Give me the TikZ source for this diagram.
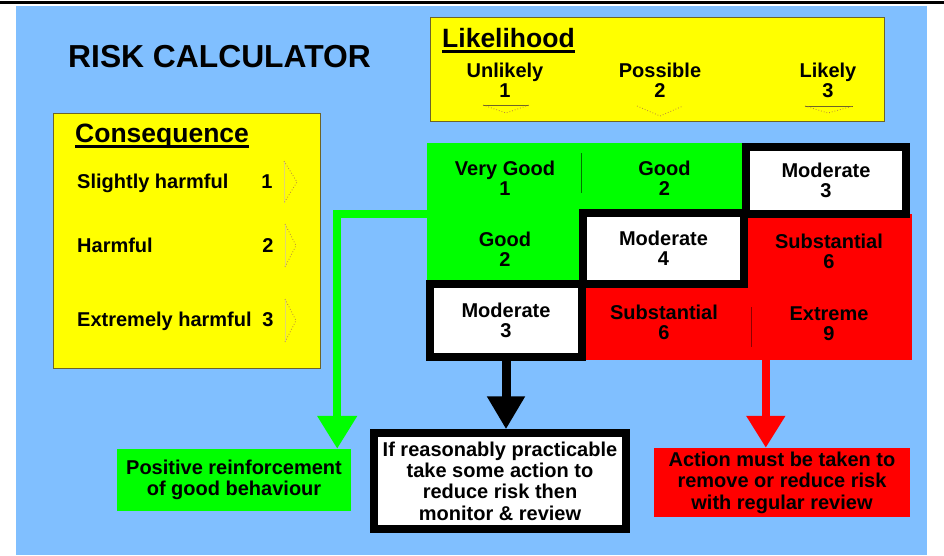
\documentclass[tikz,border=0pt]{standalone}
\usepackage{fontspec}
\setmainfont{Liberation Sans}
\usetikzlibrary{arrows.meta,calc}
\definecolor{bgblue}{RGB}{128,191,255}
\definecolor{yel}{RGB}{255,255,0}
\definecolor{grn}{RGB}{0,255,0}
\definecolor{rd}{RGB}{255,0,0}
\definecolor{boxline}{RGB}{110,100,40}
\definecolor{dotc}{RGB}{185,135,60}
\definecolor{faintc}{RGB}{225,215,110}
\newcommand\ulbox[1]{\setbox0\hbox{#1}\rlap{\rule[-5.5pt]{\wd0}{2.6pt}}\box0}
\begin{document}
\begin{tikzpicture}[x=1pt,y=-1pt,
  txt/.style={font=\fontsize{20}{20}\selectfont\bfseries, align=center, inner sep=0pt},
  lbl/.style={font=\fontsize{20}{20}\selectfont\bfseries, inner sep=0pt, anchor=base west},
  num/.style={font=\fontsize{20}{20}\selectfont\bfseries, inner sep=0pt, anchor=base},
  head/.style={font=\fontsize{26.5}{30}\selectfont\bfseries, inner sep=0pt, anchor=base west},
  ybox/.style={fill=yel, draw=boxline, line width=0.8pt, inner sep=0pt},
  gcell/.style={txt, fill=grn},
  rcell/.style={txt, fill=rd},
  wcell/.style={txt, fill=white, draw=black, line width=8pt},
  sepline/.style={line width=0.7pt},
  tritop/.style={draw=boxline, line width=0.8pt},
  trisides/.style={draw=dotc, line width=0.8pt, dotted},
  trifaint/.style={draw=faintc, line width=0.6pt},
  garrow/.style={draw=grn, line width=8pt, -{Triangle[width=38pt,length=33pt]}},
  barrow/.style={draw=black, line width=9pt, -{Triangle[width=36pt,length=33pt]}},
  rarrow/.style={draw=rd, line width=8pt, -{Triangle[width=37pt,length=32pt]}}
]
\useasboundingbox (0,0) rectangle (944,555);
\fill[bgblue] (16,6) rectangle (927,555);
\draw[line width=2.6pt] (0,2.6) -- (944,2.6);

% title
\node[font=\fontsize{31.8}{36}\selectfont\bfseries, inner sep=0pt, anchor=base west] (title) at (68,67) {RISK CALCULATOR};

% likelihood box
\node[ybox, minimum width=454pt, minimum height=104pt] (lik) at (657,69) {};
\node[head] (likh) at (442,47) {\ulbox{Likelihood}};
\node[txt] (l1) at (505,80.5) {Unlikely\\1};
\node[txt] (l2) at (660,80.5) {Possible\\2};
\node[txt] (l3) at (828,80.5) {Likely\\3};
\draw[tritop] (483,105) -- (529,105);
\draw[trisides] (483,105) -- (506,113) -- (529,105);
\draw[trisides] (637,106) -- (660,116) -- (683,106);
\draw[tritop] (805,106) -- (853,106);
\draw[trisides] (805,106) -- (828,113) -- (853,106);

% consequence box
\node[ybox, minimum width=267pt, minimum height=255pt] (con) at (186.5,240.5) {};
\node[head] (conh) at (75,142) {\ulbox{Consequence}};
\node[lbl] (k1) at (77,188) {Slightly harmful};
\node[num] (n1) at (267,188) {1};
\node[lbl] (k2) at (77,252) {Harmful};
\node[num] (n2) at (268,252) {2};
\node[lbl] (k3) at (77,326) {Extremely harmful};
\node[num] (n3) at (268,326) {3};
\draw[trifaint] (284,161) -- (284,203);
\draw[trisides] (284,161) -- (297,182) -- (284,203);
\draw[trifaint] (285,224) -- (285,267);
\draw[trisides] (285,224) -- (296,245.5) -- (285,267);
\draw[trifaint] (285,299) -- (285,342);
\draw[trisides] (285,299) -- (296,320.5) -- (285,342);

% matrix: coloured cells
\node[gcell, minimum width=156pt, minimum height=71pt] (c11) at (505,178.5) {Very Good\\1};
\node[gcell, minimum width=163pt, minimum height=71pt] (c12) at (664.5,178.5) {Good\\2};
\node[gcell, minimum width=156pt, minimum height=70pt] (c21) at (505,249) {Good\\2};
\node[rcell, minimum width=166pt, minimum height=74pt] (c23) at (829,251) {Substantial\\6};
\node[rcell, minimum width=164pt, minimum height=76pt] (c32) at (664,322) {Substantial\\6};
\node[rcell, minimum width=166pt, minimum height=72pt] (c33) at (829,324) {Extreme\\9};
\draw[sepline, draw=green!45!black] (581,153) -- (581,193);
\draw[sepline, draw=red!55!black] (751,307) -- (751,347);
% bordered cells
\node[wcell, minimum width=160pt, minimum height=67pt] (c13) at (826,180.5) {Moderate\\3};
\node[wcell, minimum width=161pt, minimum height=71pt] (c22) at (663.5,248.5) {Moderate\\4};
\node[wcell, minimum width=152pt, minimum height=73pt] (c31) at (506,320.5) {Moderate\\3};

% outcome boxes
\node[txt, font=\fontsize{20}{21}\selectfont\bfseries, fill=grn, minimum width=234pt, minimum height=62pt] (pos) at (234,480) {Positive reinforcement\\of good behaviour};
\node[txt, font=\fontsize{20}{21.3}\selectfont\bfseries, fill=white, draw=black, line width=7.5pt, minimum width=252pt, minimum height=96pt] (mon) at (500,481) {If reasonably practicable\\take some action to\\reduce risk then\\monitor \& review};
\node[txt, font=\fontsize{20}{21.5}\selectfont\bfseries, fill=rd, minimum width=256pt, minimum height=69pt] (act) at (782,482.5) {Action must be taken to\\remove or reduce risk\\with regular review};

% connectors
\draw[garrow] (c21.north west) -| ($(pos.north east)+(-14,0)$);
\draw[barrow] (c31.south) -- (c31.south |- mon.north);
\coordinate (rs) at ($(c33.south west)+(20,0)$);
\draw[rarrow] (rs) -- (rs |- act.north);
\end{tikzpicture}
\end{document}
